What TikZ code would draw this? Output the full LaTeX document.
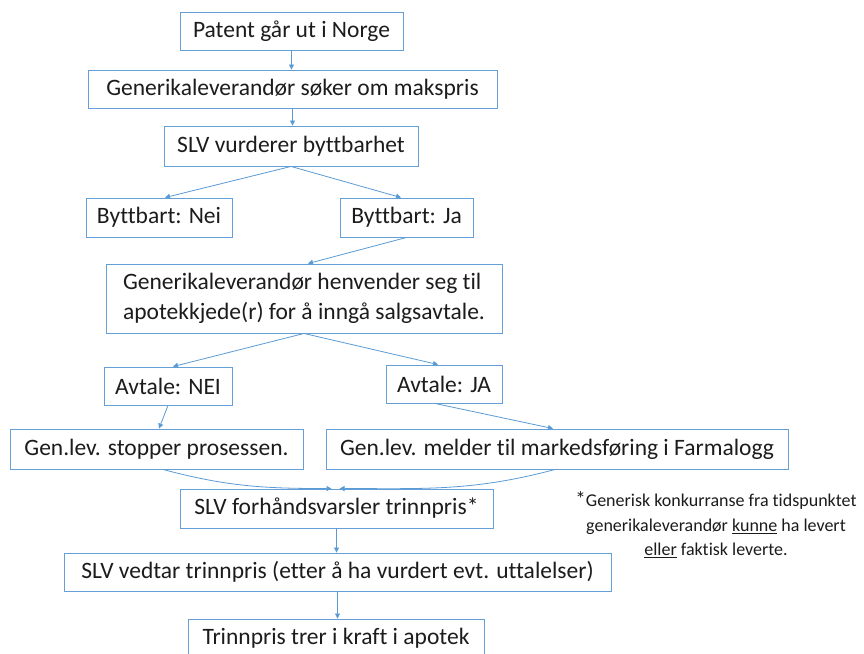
\documentclass[tikz,border=0pt]{standalone}
\usepackage{fontspec}
\setmainfont[Ligatures=NoCommon]{Carlito}
\usetikzlibrary{arrows.meta}
\definecolor{boxblue}{RGB}{100,160,215}
\definecolor{linkblue}{RGB}{91,155,213}
\definecolor{txt}{RGB}{28,28,28}
\begin{document}
\begin{tikzpicture}[x=1pt,y=-1pt,
  box/.style={draw=boxblue, line width=0.9pt, fill=white, inner sep=0pt, text=txt,
    font=\fontsize{23.5}{30}\selectfont},
  conn/.style={draw=linkblue, line width=0.8pt, -{Triangle[length=5pt,width=5pt]}},
  note/.style={text=txt, font=\fontsize{18}{24.5}\selectfont, align=center, inner sep=0pt}]
\clip (0,0) rectangle (864,653);
\fill[white] (0,0) rectangle (864,653);
\node[box, minimum width=223, minimum height=38] (b1) at (291.5,31) {Patent går ut i Norge};
\node[box, minimum width=409, minimum height=38] (b2) at (292.5,89) {Generikaleverandør søker om makspris};
\node[box, minimum width=254, minimum height=40] (b3) at (291,146) {SLV vurderer byttbarhet};
\node[box, minimum width=146, minimum height=39] (b4) at (159,217.5) {Byttbart: Nei};
\node[box, minimum width=133, minimum height=39] (b5) at (406.5,217.5) {Byttbart: Ja};
\node[box, minimum width=396, minimum height=69, align=left] (b6) at (304,298.5) {Generikaleverandør henvender seg til\\apotekkjede(r) for å inngå salgsavtale.};
\node[box, minimum width=128, minimum height=38] (b7) at (168,386) {Avtale: NEI};
\node[box, minimum width=116, minimum height=38] (b8) at (444,384) {Avtale: JA};
\node[box, minimum width=293, minimum height=40] (b9) at (156.5,449) {Gen.lev. stopper prosessen.};
\node[box, minimum width=462, minimum height=40] (b10) at (557,449) {Gen.lev. melder til markedsføring i Farmalogg};
\node[box, minimum width=313, minimum height=39] (b11) at (336.5,508.5) {SLV forhåndsvarsler trinnpris*};
\node[box, minimum width=547, minimum height=38] (b12) at (337.5,572) {SLV vedtar trinnpris (etter å ha vurdert evt. uttalelser)};
\node[box, minimum width=296, minimum height=38] (b13) at (336,638) {Trinnpris trer i kraft i apotek};
\node[note] (fn) at (716,525) {{\fontsize{21}{21}\selectfont *}Generisk konkurranse fra tidspunktet\\generikaleverandør \underline{kunne} ha levert\\\underline{eller} faktisk leverte.};
\draw[conn] (b1.south) -- (b1.south |- b2.north);
\draw[conn] (b2.south) -- (b2.south |- b3.north);
\draw[conn] (b3.south) -- ([xshift=6pt]b4.north);
\draw[conn] (b3.south) -- ([xshift=-5.5pt]b5.north);
\draw[conn] (b5.south) -- ([xshift=4pt]b6.north);
\draw[conn] (b6.south) -- ([xshift=5pt]b7.north);
\draw[conn] (b6.south) -- ([xshift=-6pt]b8.north);
\draw[conn] (b7.south) -- ([xshift=2.5pt]b9.north);
\draw[conn] ([xshift=-9pt]b8.south) -- ([xshift=-4pt]b10.north);
\draw[conn] ([xshift=6.5pt]b9.south) to[out=-15,in=180] ([xshift=-5pt]b11.north);
\draw[conn] ([xshift=-2pt]b10.south) to[out=195,in=0] ([xshift=3pt]b11.north);
\draw[conn] (b11.south) -- (b11.south |- b12.north);
\draw[conn] (b12.south) -- (b12.south |- b13.north);
\end{tikzpicture}
\end{document}
